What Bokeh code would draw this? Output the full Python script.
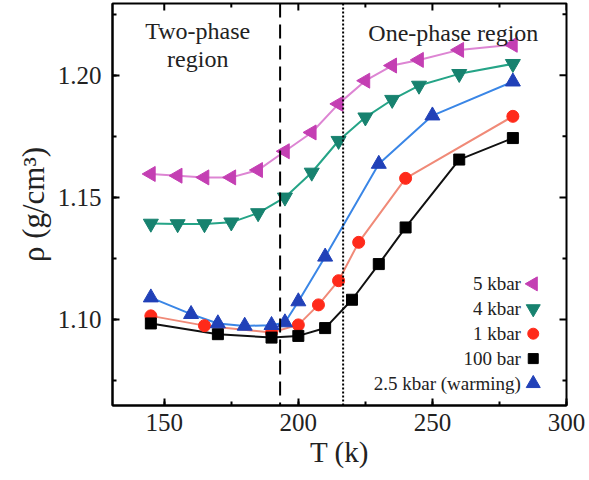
import math
from bokeh.plotting import figure
from bokeh.models import (Range1d, Span, Label, SingleIntervalTicker,
                          NumeralTickFormatter)
from bokeh.embed import file_html
from bokeh.resources import INLINE

# ---- data ----
T_5kbar = [145, 155, 165, 175, 185, 195, 205, 215, 225, 235, 245, 260, 280]
rho_5kbar = [1.1596, 1.1589, 1.1582, 1.1582, 1.1612, 1.1689, 1.1766, 1.1883,
             1.1978, 1.2040, 1.2063, 1.2104, 1.2125]

T_4kbar = [145, 155, 165, 175, 185, 195, 205, 215, 225, 235, 245, 260, 280]
rho_4kbar = [1.1393, 1.1391, 1.1391, 1.1398, 1.1436, 1.1500, 1.1602, 1.1732,
             1.1828, 1.1900, 1.1958, 1.2006, 1.2047]

T_1kbar = [145, 165, 190, 200, 207.5, 215, 222.5, 240, 280]
rho_1kbar = [1.1015, 1.0975, 1.0947, 1.0978, 1.1060, 1.1159, 1.1316, 1.1578, 1.1832]

T_100bar = [145, 170, 190, 200, 210, 220, 230, 240, 260, 280]
rho_100bar = [1.0984, 1.0940, 1.0926, 1.0933, 1.0965, 1.1081, 1.1227, 1.1377,
              1.1655, 1.1743]

T_25kbar = [145, 160, 170, 180, 190, 195, 200, 210, 230, 250, 280]
rho_25kbar = [1.1090, 1.1022, 1.0984, 1.0974, 1.0977, 1.0988, 1.1074, 1.1257,
              1.1637, 1.1835, 1.1974]

T_dashed = 193.2
T_dotted = 216.7

# tick positions (major every 50 K / 0.05 g/cm3, one minor in between)
x_major = [150, 200, 250, 300]
x_minor = [175, 225, 275]
y_major = [1.10, 1.15, 1.20]
y_minor = [1.075, 1.125, 1.175, 1.225]

labels = ["5 kbar", "4 kbar", "1 kbar", "100 bar", "2.5 kbar (warming)"]

FONT = "'Liberation Serif', 'Times New Roman', serif"

X0, X1 = 130.7, 300.0
Y0, Y1 = 1.0648, 1.2294

p = figure(width=589, height=480, output_backend="svg", toolbar_location=None,
           x_range=Range1d(X0, X1), y_range=Range1d(Y0, Y1),
           min_border_left=112, min_border_right=23, min_border_top=3,
           min_border_bottom=75)
p.grid.visible = False
p.background_fill_color = "white"
p.border_fill_color = "white"
p.outline_line_color = "black"
p.outline_line_width = 2


def style_axis(ax, label_size):
    ax.axis_line_color = "black"
    ax.axis_line_width = 2
    ax.major_tick_in = 7
    ax.major_tick_out = 0
    ax.minor_tick_in = 4
    ax.minor_tick_out = 0
    ax.major_tick_line_width = 2
    ax.minor_tick_line_width = 2
    ax.major_tick_line_color = "black"
    ax.minor_tick_line_color = "black"
    ax.major_label_text_font = FONT
    ax.major_label_text_font_size = "25px"
    ax.major_label_text_color = "#222222"
    ax.axis_label_text_font = FONT
    ax.axis_label_text_font_style = "normal"
    ax.axis_label_text_font_size = label_size
    ax.axis_label_text_color = "#222222"


xa = p.xaxis[0]
xa.ticker = SingleIntervalTicker(interval=50, num_minor_ticks=2)
xa.axis_label = "T (k)"
xa.major_label_standoff = 8
xa.axis_label_standoff = 2
style_axis(xa, "29px")

ya = p.yaxis[0]
ya.ticker = SingleIntervalTicker(interval=0.05, num_minor_ticks=2)
ya.formatter = NumeralTickFormatter(format="0.00")
ya.axis_label = "ρ (g/cm³)"
ya.major_label_standoff = 11
ya.axis_label_standoff = 4
style_axis(ya, "31px")

# mirrored ticks on top and right edges (inward)
p.ray(x=x_major, y=[Y1] * len(x_major), length=7, angle=-math.pi / 2,
      length_units="screen", line_color="black", line_width=2)
p.ray(x=x_minor, y=[Y1] * len(x_minor), length=4, angle=-math.pi / 2,
      length_units="screen", line_color="black", line_width=2)
p.ray(x=[X1] * len(y_major), y=y_major, length=7, angle=math.pi,
      length_units="screen", line_color="black", line_width=2)
p.ray(x=[X1] * len(y_minor), y=y_minor, length=4, angle=math.pi,
      length_units="screen", line_color="black", line_width=2)

# region markers
p.add_layout(Span(location=T_dashed, dimension="height", line_color="black",
                  line_width=2, line_dash="14 7"))
p.add_layout(Span(location=T_dotted, dimension="height", line_color="black",
                  line_width=2, line_dash="2 2"))

series = [
    (T_5kbar, rho_5kbar, "#c43fb3", "#dd85d3", "triangle", math.pi / 2, 15),
    (T_4kbar, rho_4kbar, "#17826f", "#25a487", "inverted_triangle", 0, 15),
    (T_1kbar, rho_1kbar, "#ff2a1a", "#f08a78", "circle", 0, 12),
    (T_100bar, rho_100bar, "#000000", "#111111", "square", 0, 11),
    (T_25kbar, rho_25kbar, "#2141b8", "#3a86e6", "triangle", 0, 15),
]

for xs, ys, mc, lc, mk, ang, sz in series:
    p.line(xs, ys, line_color=lc, line_width=2)
for xs, ys, mc, lc, mk, ang, sz in series:
    p.scatter(xs, ys, marker=mk, angle=ang, size=sz, fill_color=mc,
              line_color=mc)

# manual legend (text right-aligned, glyph on the right)
leg_glyph_x = 287.6
leg_text_x = 283.0
leg_y0 = 1.1146
leg_dy = 0.0102
for i, (lab, s) in enumerate(zip(labels, series)):
    yy = leg_y0 - i * leg_dy
    p.scatter([leg_glyph_x], [yy], marker=s[4], angle=s[5], size=s[6] - 1,
              fill_color=s[2], line_color=s[2])
    p.add_layout(Label(x=leg_text_x, y=yy, text=lab, text_align="right",
                       text_baseline="middle", text_font=FONT,
                       text_font_size="19px", text_color="#222222"))

# region labels
p.add_layout(Label(x=162.5, y=1.2183, text="Two-phase", text_align="center",
                   text_baseline="alphabetic", text_font=FONT,
                   text_font_size="24px", text_color="#222222"))
p.add_layout(Label(x=162.5, y=1.2068, text="region", text_align="center",
                   text_baseline="alphabetic", text_font=FONT,
                   text_font_size="24px", text_color="#222222"))
p.add_layout(Label(x=257.8, y=1.2175, text="One-phase region", text_align="center",
                   text_baseline="alphabetic", text_font=FONT,
                   text_font_size="24px", text_color="#222222"))

open("out.html", "w").write(file_html(p, INLINE))
